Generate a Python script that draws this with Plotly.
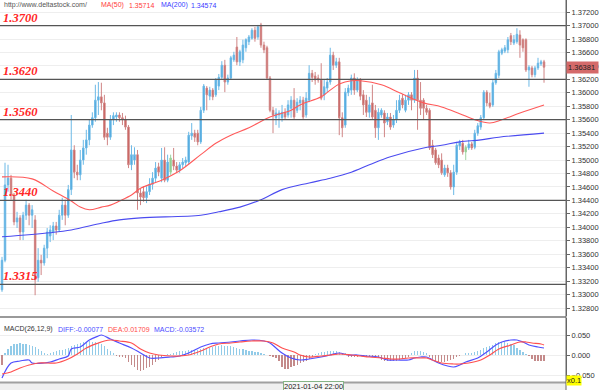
import plotly.graph_objects as go

# ---------------- data ----------------
OPEN = [1.3307,1.3351,1.3463,1.3473,1.3448,1.3408,1.3414,1.3393,1.3418,1.3433,
        1.3418,1.3411,1.3325,1.3351,1.3347,1.3369,1.3387,1.3393,1.3402,1.3396,
        1.3418,1.3433,1.3418,1.3456,1.3515,1.3482,1.3478,1.3500,1.3518,1.3530,
        1.3552,1.3563,1.3589,1.3594,1.3585,1.3540,1.3534,1.3560,1.3564,1.3567,
        1.3563,1.3560,1.3549,1.3493,1.3500,1.3508,1.3451,1.3453,1.3444,1.3453,
        1.3464,1.3473,1.3490,1.3473,1.3500,1.3470,1.3482,1.3500,1.3491,1.3485,
        1.3493,1.3496,1.3497,1.3536,1.3540,1.3540,1.3527,1.3574,1.3607,1.3595,
        1.3604,1.3597,1.3610,1.3623,1.3641,1.3616,1.3622,1.3649,1.3668,1.3646,
        1.3649,1.3667,1.3676,1.3681,1.3693,1.3683,1.3701,1.3671,1.3667,1.3622,
        1.3574,1.3563,1.3567,1.3563,1.3571,1.3567,1.3577,1.3589,1.3574,1.3585,
        1.3589,1.3567,1.3589,1.3629,1.3625,1.3622,1.3619,1.3597,1.3607,1.3616,
        1.3656,1.3641,1.3646,1.3563,1.3552,1.3600,1.3604,1.3622,1.3604,1.3619,
        1.3597,1.3589,1.3571,1.3585,1.3574,1.3548,1.3567,1.3570,1.3557,1.3564,
        1.3552,1.3560,1.3574,1.3592,1.3574,1.3589,1.3597,1.3589,1.3622,1.3589,
        1.3589,1.3577,1.3574,1.3522,1.3515,1.3503,1.3500,1.3478,1.3488,1.3481,
        1.3460,1.3482,1.3521,1.3525,1.3512,1.3518,1.3524,1.3519,1.3540,1.3549,
        1.3563,1.3601,1.3585,1.3582,1.3615,1.3626,1.3659,1.3662,1.3664,1.3685,
        1.3674,1.3676,1.3686,1.3679,1.3679,1.3634,1.3637,1.3627,1.3637,1.3643,
        1.3646]
HIGH = [1.3356,1.3496,1.3493,1.3478,1.3451,1.3423,1.3418,1.3423,1.3441,1.3436,
        1.3433,1.3418,1.3369,1.3359,1.3374,1.3399,1.3403,1.3408,1.3408,1.3426,
        1.3444,1.3441,1.3463,1.3567,1.3522,1.3493,1.3515,1.3530,1.3545,1.3560,
        1.3571,1.3612,1.3616,1.3615,1.3597,1.3548,1.3567,1.3571,1.3571,1.3571,
        1.3570,1.3566,1.3552,1.3522,1.3519,1.3515,1.3458,1.3461,1.3461,1.3473,
        1.3482,1.3497,1.3496,1.3518,1.3519,1.3508,1.3508,1.3518,1.3497,1.3497,
        1.3503,1.3505,1.3542,1.3555,1.3545,1.3545,1.3579,1.3613,1.3610,1.3609,
        1.3607,1.3622,1.3628,1.3647,1.3649,1.3627,1.3655,1.3661,1.3683,1.3664,
        1.3679,1.3681,1.3686,1.3696,1.3698,1.3701,1.3704,1.3676,1.3670,1.3625,
        1.3579,1.3577,1.3574,1.3582,1.3577,1.3589,1.3595,1.3607,1.3592,1.3595,
        1.3594,1.3601,1.3641,1.3634,1.3631,1.3627,1.3644,1.3619,1.3622,1.3667,
        1.3661,1.3652,1.3652,1.3571,1.3607,1.3612,1.3627,1.3629,1.3623,1.3622,
        1.3604,1.3597,1.3594,1.3612,1.3582,1.3577,1.3577,1.3574,1.3570,1.3570,
        1.3567,1.3589,1.3597,1.3598,1.3597,1.3601,1.3601,1.3634,1.3634,1.3616,
        1.3592,1.3582,1.3577,1.3530,1.3518,1.3508,1.3510,1.3493,1.3493,1.3485,
        1.3493,1.3527,1.3530,1.3530,1.3522,1.3530,1.3527,1.3545,1.3555,1.3567,
        1.3604,1.3604,1.3600,1.3619,1.3634,1.3664,1.3667,1.3671,1.3683,1.3689,
        1.3686,1.3696,1.3693,1.3681,1.3681,1.3641,1.3640,1.3640,1.3652,1.3649,
        1.3649]
LOW = [1.3304,1.3348,1.3453,1.3441,1.3403,1.3399,1.3381,1.3381,1.3411,1.3403,
       1.3399,1.3299,1.3319,1.3329,1.3343,1.3354,1.3378,1.3381,1.3389,1.3393,
       1.3411,1.3403,1.3414,1.3448,1.3473,1.3470,1.3470,1.3493,1.3508,1.3522,
       1.3548,1.3557,1.3567,1.3574,1.3530,1.3522,1.3530,1.3552,1.3557,1.3557,
       1.3552,1.3545,1.3488,1.3485,1.3493,1.3426,1.3433,1.3438,1.3436,1.3448,
       1.3456,1.3467,1.3476,1.3467,1.3467,1.3467,1.3478,1.3485,1.3481,1.3481,
       1.3488,1.3491,1.3493,1.3530,1.3527,1.3522,1.3524,1.3570,1.3574,1.3589,
       1.3589,1.3594,1.3604,1.3619,1.3601,1.3612,1.3619,1.3646,1.3641,1.3640,
       1.3644,1.3661,1.3671,1.3679,1.3676,1.3679,1.3667,1.3659,1.3619,1.3571,
       1.3540,1.3552,1.3548,1.3557,1.3560,1.3563,1.3563,1.3560,1.3570,1.3574,
       1.3560,1.3563,1.3586,1.3616,1.3612,1.3615,1.3589,1.3589,1.3601,1.3612,
       1.3634,1.3637,1.3537,1.3534,1.3548,1.3595,1.3597,1.3597,1.3601,1.3589,
       1.3567,1.3564,1.3563,1.3560,1.3533,1.3530,1.3563,1.3534,1.3552,1.3545,
       1.3548,1.3555,1.3570,1.3577,1.3571,1.3582,1.3574,1.3585,1.3545,1.3567,
       1.3560,1.3567,1.3515,1.3503,1.3493,1.3488,1.3478,1.3475,1.3475,1.3456,
       1.3448,1.3478,1.3515,1.3508,1.3500,1.3515,1.3515,1.3516,1.3536,1.3545,
       1.3560,1.3580,1.3577,1.3579,1.3612,1.3622,1.3656,1.3659,1.3659,1.3671,
       1.3671,1.3673,1.3652,1.3661,1.3631,1.3609,1.3623,1.3623,1.3634,1.3640,
       1.3615]
CLOSE = [1.3351,1.3463,1.3473,1.3448,1.3408,1.3414,1.3393,1.3418,1.3433,1.3418,
         1.3426,1.3322,1.3351,1.3347,1.3369,1.3393,1.3396,1.3402,1.3396,1.3418,
         1.3433,1.3418,1.3456,1.3515,1.3482,1.3478,1.3500,1.3518,1.3530,1.3552,
         1.3563,1.3589,1.3594,1.3585,1.3534,1.3534,1.3560,1.3566,1.3567,1.3563,
         1.3560,1.3549,1.3493,1.3508,1.3508,1.3451,1.3445,1.3444,1.3453,1.3464,
         1.3473,1.3488,1.3482,1.3500,1.3470,1.3497,1.3503,1.3491,1.3485,1.3493,
         1.3497,1.3500,1.3537,1.3540,1.3534,1.3527,1.3574,1.3610,1.3597,1.3604,
         1.3594,1.3619,1.3623,1.3641,1.3616,1.3622,1.3652,1.3656,1.3646,1.3661,
         1.3671,1.3679,1.3683,1.3693,1.3681,1.3698,1.3671,1.3664,1.3622,1.3574,
         1.3567,1.3570,1.3570,1.3571,1.3564,1.3582,1.3589,1.3564,1.3586,1.3589,
         1.3564,1.3592,1.3629,1.3623,1.3619,1.3619,1.3592,1.3609,1.3616,1.3656,
         1.3641,1.3646,1.3563,1.3548,1.3601,1.3607,1.3622,1.3604,1.3619,1.3595,
         1.3582,1.3571,1.3582,1.3564,1.3548,1.3571,1.3574,1.3555,1.3564,1.3549,
         1.3560,1.3574,1.3589,1.3582,1.3589,1.3597,1.3589,1.3622,1.3589,1.3577,
         1.3577,1.3571,1.3518,1.3508,1.3496,1.3493,1.3481,1.3488,1.3481,1.3460,
         1.3482,1.3522,1.3527,1.3512,1.3519,1.3524,1.3518,1.3540,1.3551,1.3563,
         1.3601,1.3585,1.3580,1.3615,1.3629,1.3661,1.3664,1.3667,1.3679,1.3676,
         1.3679,1.3687,1.3671,1.3667,1.3634,1.3638,1.3627,1.3637,1.3644,1.3646,
         1.36381]
GREEN_IDX = [56, 154]   # candles drawn in green in the reference

MA50_IDX = [0,10,17,23,26,29,33,36,39,43,46,53,59,66,71,76,82,89,96,99,
            106,109,112,116,119,126,132,136,140,146,152,157,162,166,172,180]
MA50_VAL = [1.3475,1.3472,1.3454,1.3439,1.3430,1.3426,1.3430,1.3433,1.3439,1.3448,
            1.3458,1.3470,1.3484,1.3508,1.3525,1.3537,1.3548,1.3564,1.3574,1.3582,
            1.3594,1.3604,1.3613,1.3618,1.3618,1.3612,1.3600,1.3592,1.3585,1.3579,
            1.3569,1.3560,1.3555,1.3560,1.3570,1.3582]
MA200_IDX = [0,16,23,33,39,46,66,72,79,86,93,102,109,116,122,129,140,146,152,159,165,180]
MA200_VAL = [1.3386,1.3392,1.3396,1.3406,1.3411,1.3414,1.3418,1.3423,1.3430,1.3441,
             1.3456,1.3466,1.3473,1.3482,1.3493,1.3505,1.3518,1.3522,1.3527,1.3530,
             1.3534,1.3540]

DIFF_IDX = [0,3,6,9,10,14,16,19,22,23,26,29,32,33,36,39,43,46,49,52,
            56,59,62,66,69,72,76,79,83,87,89,91,93,96,99,102,106,109,112,115,
            118,121,125,128,131,135,137,139,141,143,145,148,150,152,154,158,161,164,166,169,
            171,173,175,178,180]
DIFF_VAL = [-0.0575,-0.02,-0.015,-0.0125,-0.02,-0.02,-0.0175,-0.01,-0.0025,0.015,
            0.02,0.0375,0.0475,0.05,0.04,0.03,0.0175,0.005,-0.0075,-0.0075,
            -0.005,-0.0025,0.005,0.02,0.0275,0.03,0.0325,0.035,0.0375,0.035,
            0.03,0.0175,0.005,-0.0075,-0.0125,-0.01,-0.005,0.0,0.005,0.0,
            0.0,-0.0025,-0.005,-0.0125,-0.0125,-0.0125,-0.0075,-0.005,-0.005,-0.0125,
            -0.02,-0.0275,-0.03,-0.025,-0.0175,-0.0075,0.0075,0.025,0.0325,0.0375,
            0.0375,0.0325,0.025,0.02,0.0175]
DEA_IDX = [0,3,6,9,12,15,18,22,25,28,32,34,36,39,43,46,49,52,56,59,
           62,66,69,72,76,79,83,87,90,93,97,99,102,106,109,112,116,119,122,126,
           129,132,135,139,141,143,146,150,152,155,159,162,165,169,172,174,176,179,180]
DEA_VAL = [-0.0475,-0.0425,-0.0325,-0.025,-0.02,-0.02,-0.02,-0.01,0.0025,0.0175,
           0.03,0.035,0.0375,0.035,0.03,0.015,0.005,0.0,-0.0025,-0.0025,
           0.0,0.01,0.02,0.0275,0.03,0.0325,0.035,0.035,0.03,0.0175,
           0.0075,0.0,-0.005,-0.0025,0.0,0.0025,0.0,-0.0025,-0.005,-0.0075,
           -0.01,-0.01,-0.0075,-0.0075,-0.0075,-0.0125,-0.02,-0.0225,-0.0225,-0.02,
           -0.0125,0.0,0.015,0.025,0.0325,0.0325,0.03,0.0275,0.025]
HIST = [-0.025,0.006,0.015,0.022,0.027,0.028,0.029,0.028,0.027,0.025,
        0.022,0.020,0.014,0.010,0.006,0.003,0.004,0.008,0.010,0.012,
        0.013,0.014,0.017,0.022,0.026,0.028,0.030,0.032,0.033,0.034,
        0.033,0.032,0.031,0.027,0.022,0.016,0.010,0.004,-0.002,-0.004,
        -0.005,-0.008,-0.018,-0.026,-0.030,-0.038,-0.040,-0.037,-0.033,-0.030,
        -0.025,-0.018,-0.012,-0.006,-0.003,0.002,0.003,0.005,0.008,0.010,
        0.010,0.011,0.012,0.013,0.012,0.013,0.016,0.018,0.017,0.018,
        0.020,0.022,0.023,0.024,0.023,0.022,0.023,0.020,0.017,0.015,
        0.014,0.012,0.010,0.009,0.008,0.007,0.005,0.003,0.001,-0.002,
        -0.005,-0.008,-0.015,-0.030,-0.035,-0.034,-0.030,-0.027,-0.024,-0.021,
        -0.018,-0.014,-0.009,-0.006,0.003,0.006,0.008,0.008,0.009,0.010,
        0.011,0.010,0.007,0.006,0.004,-0.004,-0.006,-0.005,-0.004,-0.003,
        -0.004,-0.004,-0.005,-0.006,-0.006,-0.008,-0.012,-0.015,-0.016,-0.016,
        -0.015,-0.014,-0.012,-0.010,-0.008,-0.004,0.006,0.010,0.011,0.009,
        0.007,0.004,-0.005,-0.010,-0.015,-0.017,-0.018,-0.017,-0.014,-0.012,
        -0.011,-0.006,-0.002,0.001,0.004,0.005,0.006,0.008,0.010,0.012,
        0.017,0.020,0.022,0.025,0.030,0.032,0.033,0.033,0.030,0.027,
        0.024,0.018,0.013,0.008,0.003,-0.002,-0.010,-0.014,-0.015,-0.015,
        -0.015]

LEVELS = [1.3700, 1.3620, 1.3560, 1.3440, 1.3315]
LEVEL_LABELS = ["1.3700", "1.3620", "1.3560", "1.3440", "1.3315"]
PRICE_TICKS = [1.328, 1.330, 1.332, 1.334, 1.336, 1.338, 1.340, 1.342, 1.344, 1.346,
               1.348, 1.350, 1.352, 1.354, 1.356, 1.358, 1.360, 1.362, 1.364, 1.366,
               1.368, 1.370, 1.372]
MACD_TICKS = [-0.05, 0.0, 0.05]
LAST_PRICE = 1.36381
CURSOR_IDX = 103.3
CURSOR_LABEL = "2021-01-04 22:00"

# ---------------- figure ----------------
W, H = 600, 390
PLOT_W = 566
idx = list(range(len(CLOSE)))
main_idx = [i for i in idx if i not in GREEN_IDX]

fig = go.Figure()

fig.add_trace(go.Candlestick(
    x=main_idx,
    open=[OPEN[i] for i in main_idx], high=[HIGH[i] for i in main_idx],
    low=[LOW[i] for i in main_idx], close=[CLOSE[i] for i in main_idx],
    increasing=dict(line=dict(color="#6cb9e6", width=1), fillcolor="#47a3da"),
    decreasing=dict(line=dict(color="#d08585", width=1), fillcolor="#c6544f"),
    whiskerwidth=0, hoverinfo="skip", xaxis="x", yaxis="y"))
fig.add_trace(go.Candlestick(
    x=GREEN_IDX,
    open=[OPEN[i] for i in GREEN_IDX], high=[HIGH[i] for i in GREEN_IDX],
    low=[LOW[i] for i in GREEN_IDX], close=[CLOSE[i] for i in GREEN_IDX],
    increasing=dict(line=dict(color="#9fd49f", width=1), fillcolor="#86c986"),
    decreasing=dict(line=dict(color="#9fd49f", width=1), fillcolor="#86c986"),
    hoverinfo="skip", xaxis="x", yaxis="y"))

fig.add_trace(go.Scatter(x=MA50_IDX, y=MA50_VAL, mode="lines",
                         line=dict(color="#ff5a5a", width=1.1, shape="spline"),
                         hoverinfo="skip", xaxis="x", yaxis="y"))
fig.add_trace(go.Scatter(x=MA200_IDX, y=MA200_VAL, mode="lines",
                         line=dict(color="#4b4bf0", width=1.1, shape="spline"),
                         hoverinfo="skip", xaxis="x", yaxis="y"))

fig.add_trace(go.Bar(x=idx, y=HIST, width=0.4,
                     marker=dict(color=["#92cbe8" if v >= 0 else "#c48a8a" for v in HIST],
                                 line=dict(width=0)),
                     hoverinfo="skip", xaxis="x2", yaxis="y2"))
fig.add_trace(go.Scatter(x=DIFF_IDX, y=DIFF_VAL, mode="lines",
                         line=dict(color="#5050ff", width=1.2, shape="spline"),
                         hoverinfo="skip", xaxis="x2", yaxis="y2"))
fig.add_trace(go.Scatter(x=DEA_IDX, y=DEA_VAL, mode="lines",
                         line=dict(color="#ff5050", width=1.2, shape="spline"),
                         hoverinfo="skip", xaxis="x2", yaxis="y2"))

def py(px):  # pixel row -> paper y
    return 1 - px / H

def pxx(px):  # pixel column -> paper x
    return px / PLOT_W

XR = [-0.664, 187.3]
tick_font = dict(family="Liberation Sans, Arial", size=7.5, color="#333")
fig.update_layout(
    width=W, height=H, margin=dict(l=0, r=W - PLOT_W, t=0, b=0),
    paper_bgcolor="white", plot_bgcolor="white", showlegend=False,
    bargap=0, hovermode=False,
    xaxis=dict(domain=[0, 1], range=XR, showgrid=False, showticklabels=False,
               zeroline=False, rangeslider=dict(visible=False), anchor="y"),
    xaxis2=dict(domain=[0, 1], range=XR, showgrid=False, showticklabels=False,
                zeroline=False, anchor="y2"),
    yaxis=dict(domain=[py(316), 1], range=[1.32681, 1.3738], side="right",
               tickvals=PRICE_TICKS, tickformat=".5f", ticks="outside", ticklen=3,
               tickcolor="#666", showline=True, linecolor="#666", linewidth=1,
               showgrid=True, gridcolor="#eeeeee", gridwidth=1, zeroline=False,
               tickfont=tick_font, anchor="x"),
    yaxis2=dict(domain=[py(381), py(318)], range=[-0.065, 0.0925], side="right",
                tickvals=MACD_TICKS, tickformat=".3f", ticks="outside", ticklen=3,
                tickcolor="#666", showline=True, linecolor="#666", linewidth=1,
                showgrid=True, gridcolor="#eeeeee", gridwidth=1, zeroline=False,
                tickfont=tick_font, anchor="x2"),
)

shapes = []
for lv in LEVELS:
    shapes.append(dict(type="line", xref="paper", yref="y", x0=0, x1=1, y0=lv, y1=lv,
                       line=dict(color="#555555", width=1.3), layer="above"))
# pane separators and bottom strip
shapes.append(dict(type="line", xref="paper", yref="paper", x0=0, x1=1,
                   y0=py(317), y1=py(317), line=dict(color="#9a9a9a", width=2)))
shapes.append(dict(type="rect", xref="paper", yref="paper", x0=0, x1=1,
                   y0=0, y1=py(383), fillcolor="#efefef", line=dict(width=0)))
shapes.append(dict(type="line", xref="paper", yref="paper", x0=0, x1=1,
                   y0=py(382.5), y1=py(382.5), line=dict(color="#a0a0a0", width=2)))
shapes.append(dict(type="line", xref="paper", yref="paper", x0=1, x1=1,
                   y0=0, y1=1, line=dict(color="#666", width=1)))
fig.update_layout(shapes=shapes)

ann = []
for lv, lab in zip(LEVELS, LEVEL_LABELS):
    ann.append(dict(xref="paper", yref="y", x=pxx(2), y=lv, xanchor="left", yanchor="bottom",
                    text="<b><i>%s</i></b>" % lab, showarrow=False, borderpad=0,
                    font=dict(family="Liberation Serif, Times New Roman", size=12.5, color="#ff2626")))

hdr_font = "Liberation Sans, Arial"
def label(x, ypx, text, color, size=7):
    ann.append(dict(xref="paper", yref="paper", x=pxx(x), y=py(ypx), xanchor="left",
                    yanchor="middle", text=text, showarrow=False, borderpad=0,
                    font=dict(family=hdr_font, size=size, color=color)))

label(3, 5.5, "http://www.deltastock.com/", "#555555")
label(100, 5.5, "MA(50)", "#ff3b3b")
label(128, 5.5, "1.35714", "#ff3b3b")
label(160, 5.5, "MA(200)", "#3b3bff")
label(190, 5.5, "1.34574", "#3b3bff")

label(3, 329, "MACD(26,12,9)", "#333333")
label(57, 329, "DIFF:-0.00077", "#4b4bff")
label(107, 329, "DEA:0.01709", "#ff4b4b")
label(153, 329, "MACD:-0.03572", "#4b4bff")

ann.append(dict(xref="paper", yref="y", x=1, y=LAST_PRICE, xanchor="left", yanchor="middle",
                text="%.5f" % LAST_PRICE, showarrow=False, bgcolor="#d46a6a",
                borderpad=1, width=29, align="left",
                font=dict(family=hdr_font, size=7.5, color="#222")))
ann.append(dict(xref="paper", yref="paper", x=1, y=py(380), xanchor="left", yanchor="middle",
                text="x0.1", showarrow=False, bgcolor="#ffff00", borderpad=0,
                font=dict(family=hdr_font, size=7.5, color="#222")))
ann.append(dict(xref="x2", yref="paper", x=CURSOR_IDX, y=py(386.5), xanchor="center",
                yanchor="middle", text=CURSOR_LABEL, showarrow=False, bgcolor="#f7f7f7",
                bordercolor="#86b486", borderwidth=1, borderpad=0,
                font=dict(family=hdr_font, size=7.5, color="#222")))
fig.update_layout(annotations=ann)

fig.write_html("out.html", config={"displayModeBar": False, "staticPlot": True},
               post_script="document.body.style.margin='0';document.body.style.overflow='hidden';")
